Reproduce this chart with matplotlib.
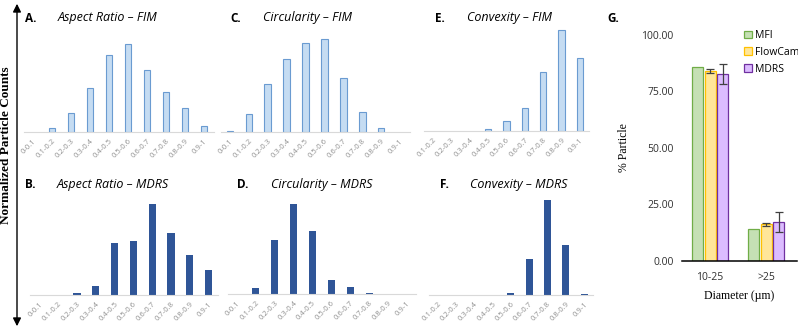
import matplotlib
matplotlib.use("Agg")
import matplotlib.pyplot as plt
from matplotlib.patches import FancyArrowPatch

W, H = 798, 330

# ---------------- data ----------------
bins10 = ["0-0.1", "0.1-0.2", "0.2-0.3", "0.3-0.4", "0.4-0.5",
          "0.5-0.6", "0.6-0.7", "0.7-0.8", "0.8-0.9", "0.9-1"]
bins9 = bins10[1:]

ar_fim = [0, 4, 19, 44, 77, 88, 62, 40, 24, 6]
circ_fim = [1, 18, 48, 73, 89, 93, 54, 20, 4, 0]
conv_fim = [0, 0, 0, 2, 10, 23, 59, 101, 73]
ar_mdrs = [0, 0, 2, 9, 52, 54, 91, 62, 40, 25]
circ_mdrs = [0, 6, 54, 90, 63, 14, 7, 1.3, 0, 0]
conv_mdrs = [0, 0, 0, 0, 2.3, 36, 95, 50, 1]

size_cats = ["10-25", ">25"]
mfi = [85.8, 14.0]
flowcam = [84.2, 16.2]
mdrs = [82.8, 17.2]
flowcam_err = [0.8, 0.5]
mdrs_err = [4.4, 4.4]
g_yticks = [0, 25, 50, 75, 100]

LIGHT_FILL, LIGHT_EDGE = "#c5dcf2", "#6a9bd1"
DARK = "#2f5597"

fig = plt.figure(figsize=(W / 100, H / 100), dpi=100)


def rect(x0, x1, ytop, ybot):
    return [x0 / W, 1 - ybot / H, (x1 - x0) / W, (ybot - ytop) / H]


def hist_panel(x0, x1, base, cats, vals, light, letter, lx, title, tx, ty):
    ax = fig.add_axes(rect(x0, x1, base - 105, base))
    n = len(cats)
    pos = list(range(n))
    nz = [i for i in pos if vals[i] > 0]
    hv = [vals[i] for i in nz]
    if light:
        ax.bar(nz, hv, width=0.35, color=LIGHT_FILL, edgecolor=LIGHT_EDGE, linewidth=0.8)
    else:
        ax.bar(nz, hv, width=0.38, color=DARK, linewidth=0)
    ax.set_xlim(-0.5, n - 0.5)
    ax.set_ylim(0, 105)
    for s in ["top", "right", "left"]:
        ax.spines[s].set_visible(False)
    ax.spines["bottom"].set_color("#d9d9d9")
    ax.spines["bottom"].set_linewidth(0.8)
    ax.set_yticks([])
    ax.set_xticks(pos)
    ax.set_xticklabels(cats, rotation=45, ha="right", rotation_mode="anchor",
                       fontsize=5.5, color="#8f8f8f", family="Open Sans")
    ax.tick_params(axis="x", length=0, pad=4)
    ax.patch.set_alpha(0)
    fig.text(lx / W, 1 - ty / H, letter, fontsize=8.5, fontweight="bold",
             family="Open Sans", va="center", ha="left")
    fig.text(tx / W, 1 - ty / H, title, fontsize=9, style="italic",
             family="Open Sans", va="center", ha="left")
    return ax


hist_panel(23.5, 213.5, 132, bins10, ar_fim, True, "A.", 25, "Aspect Ratio – FIM", 58, 18)
hist_panel(220.5, 409.5, 132, bins10, circ_fim, True, "C.", 230, "Circularity – FIM", 263, 18)
hist_panel(423.6, 589.2, 131, bins9, conv_fim, True, "E.", 435, "Convexity – FIM", 467, 18)
hist_panel(30, 218, 295, bins10, ar_mdrs, False, "B.", 25, "Aspect Ratio – MDRS", 57, 185)
hist_panel(227.5, 416.5, 294, bins10, circ_mdrs, False, "D.", 237, "Circularity – MDRS", 271, 185)
hist_panel(428.6, 593.3, 295, bins9, conv_mdrs, False, "F.", 440, "Convexity – MDRS", 470, 185)

# left arrow and label
arr = FancyArrowPatch((17 / W, 1 - 329 / H), (17 / W, 1 - 1 / H), transform=fig.transFigure,
                      arrowstyle="<|-|>", mutation_scale=12, color="black", lw=1)
fig.patches.append(arr)
fig.text(6 / W, 1 - 145 / H, "Normalized Particle Counts", rotation=90, fontsize=9.5,
         fontweight="bold", family="Liberation Serif", va="center", ha="center")

# ---------------- panel G ----------------
axg = fig.add_axes(rect(682, 797, 35, 261))
off = 0.223
bw = 0.196
xs = list(range(len(size_cats)))
axg.bar([x - off for x in xs], mfi, width=bw, color="#c5e0b4", edgecolor="#70ad47",
        linewidth=0.9, label="MFI")
axg.bar(xs, flowcam, width=bw, color="#ffe699", edgecolor="#ffc000", linewidth=0.9,
        label="FlowCam", yerr=flowcam_err, capsize=3,
        error_kw=dict(ecolor="#404040", elinewidth=0.9, capthick=0.9))
axg.bar([x + off for x in xs], mdrs, width=bw, color="#dcbcff", edgecolor="#7030a0",
        linewidth=0.9, label="MDRS", yerr=mdrs_err, capsize=3,
        error_kw=dict(ecolor="#404040", elinewidth=0.9, capthick=0.9))
axg.set_xlim(-0.5, 1.55)
axg.set_ylim(0, 100)
axg.set_yticks(g_yticks)
axg.set_yticklabels([f"{v:.2f}" for v in g_yticks], fontsize=7.5, family="Open Sans",
                    color="#303030")
axg.set_xticks(xs)
axg.set_xticklabels(size_cats, fontsize=7.5, family="Open Sans", color="#303030")
axg.tick_params(axis="both", length=0)
axg.tick_params(axis="x", pad=8)
axg.tick_params(axis="y", pad=6)
for s in ["top", "right", "left"]:
    axg.spines[s].set_visible(False)
axg.spines["bottom"].set_linewidth(1.1)
axg.patch.set_alpha(0)
axg.set_xlabel("Diameter (µm)", fontsize=8.5, family="Liberation Serif", labelpad=5)
axg.set_ylabel("% Particle", fontsize=8.5, family="Liberation Serif", labelpad=8)
leg = axg.legend(loc="upper left", bbox_to_anchor=(0.5, 1.04), frameon=False,
                 prop=dict(family="Open Sans", size=7.5), handlelength=0.8,
                 handleheight=0.8, handletextpad=0.3, labelspacing=0.55, borderaxespad=0)
fig.text(607 / W, 1 - 19 / H, "G.", fontsize=8.5, fontweight="bold", family="Open Sans",
         va="center", ha="left")

fig.savefig("out.png", dpi=100)
